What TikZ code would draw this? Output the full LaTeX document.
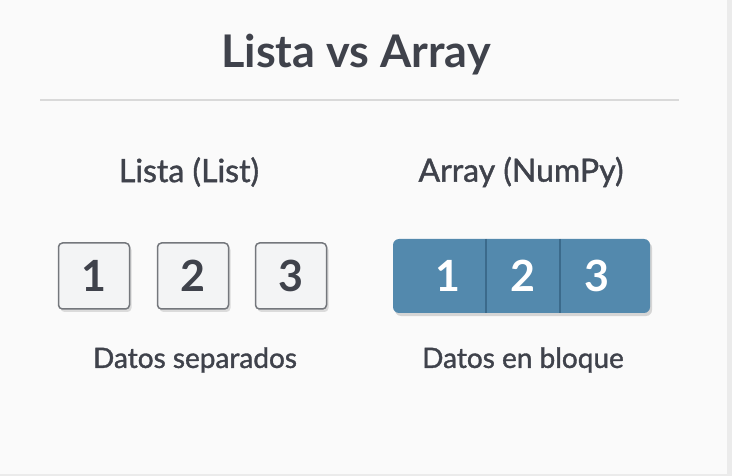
\documentclass[tikz,border=0pt]{standalone}
\usepackage{fontspec}
\setmainfont{Lato}
\newfontfamily\medfont{Lato}[FakeBold=1.3]
\usetikzlibrary{shadows}
\definecolor{txt}{HTML}{3F424B}
\definecolor{blk}{HTML}{5389AD}
\definecolor{blkline}{HTML}{3B6A8B}
\definecolor{boxline}{HTML}{74777C}
\definecolor{boxfill}{HTML}{F3F4F5}
\tikzset{
  cell/.style={draw=boxline, fill=boxfill, line width=1.5pt, rounded corners=4pt,
    minimum width=71pt, minimum height=66pt, inner sep=0pt,
    drop shadow={shadow xshift=2pt, shadow yshift=-3pt, opacity=0.25},
    text=txt, font=\fontsize{43}{43}\selectfont\bfseries},
  digit/.style={text=white, font=\fontsize{43}{43}\selectfont\bfseries},
  head/.style={text=txt, font=\medfont\fontsize{32}{32}\selectfont},
  caption/.style={text=txt, font=\medfont\fontsize{28}{28}\selectfont}
}
\begin{document}
\begin{tikzpicture}[x=1pt,y=-1pt]
\useasboundingbox (0,0) rectangle (732,476);
\fill[white!98!black] (0,0) rectangle (732,476);
\fill[black!8] (727,0) rectangle (732,476);
\fill[black!8] (0,474) rectangle (732,476);

\node (title) at (356,55) [text=txt, font=\fontsize{45}{45}\selectfont\bfseries] {Lista vs Array};
\draw[black!15, line width=1.2pt] (40,100) -- (679,100);

\node (lhead) at (189,172) [head] {Lista (List)};
\node (rhead) at (521,172) [head] {Array (NumPy)};

\node (c1) at (94,276) [cell] {1};
\node (c2) at (193,276) [cell] {2};
\node (c3) at (291,276) [cell] {3};

\node (arr) at (521.5,276) [fill=blk, rounded corners=6pt, minimum width=257pt, minimum height=74pt,
  drop shadow={shadow xshift=2pt, shadow yshift=-3pt, opacity=0.3}] {};
\draw[blkline, line width=1.5pt] ([xshift=93pt]arr.north west) -- ([xshift=93pt]arr.south west);
\draw[blkline, line width=1.5pt] ([xshift=167pt]arr.north west) -- ([xshift=167pt]arr.south west);
\node (a1) at (448,276) [digit] {1};
\node (a2) at (523,276) [digit] {2};
\node (a3) at (597,276) [digit] {3};

\node (lcap) at (195,360) [caption] {Datos separados};
\node (rcap) at (523,360) [caption] {Datos en bloque};
\end{tikzpicture}
\end{document}
